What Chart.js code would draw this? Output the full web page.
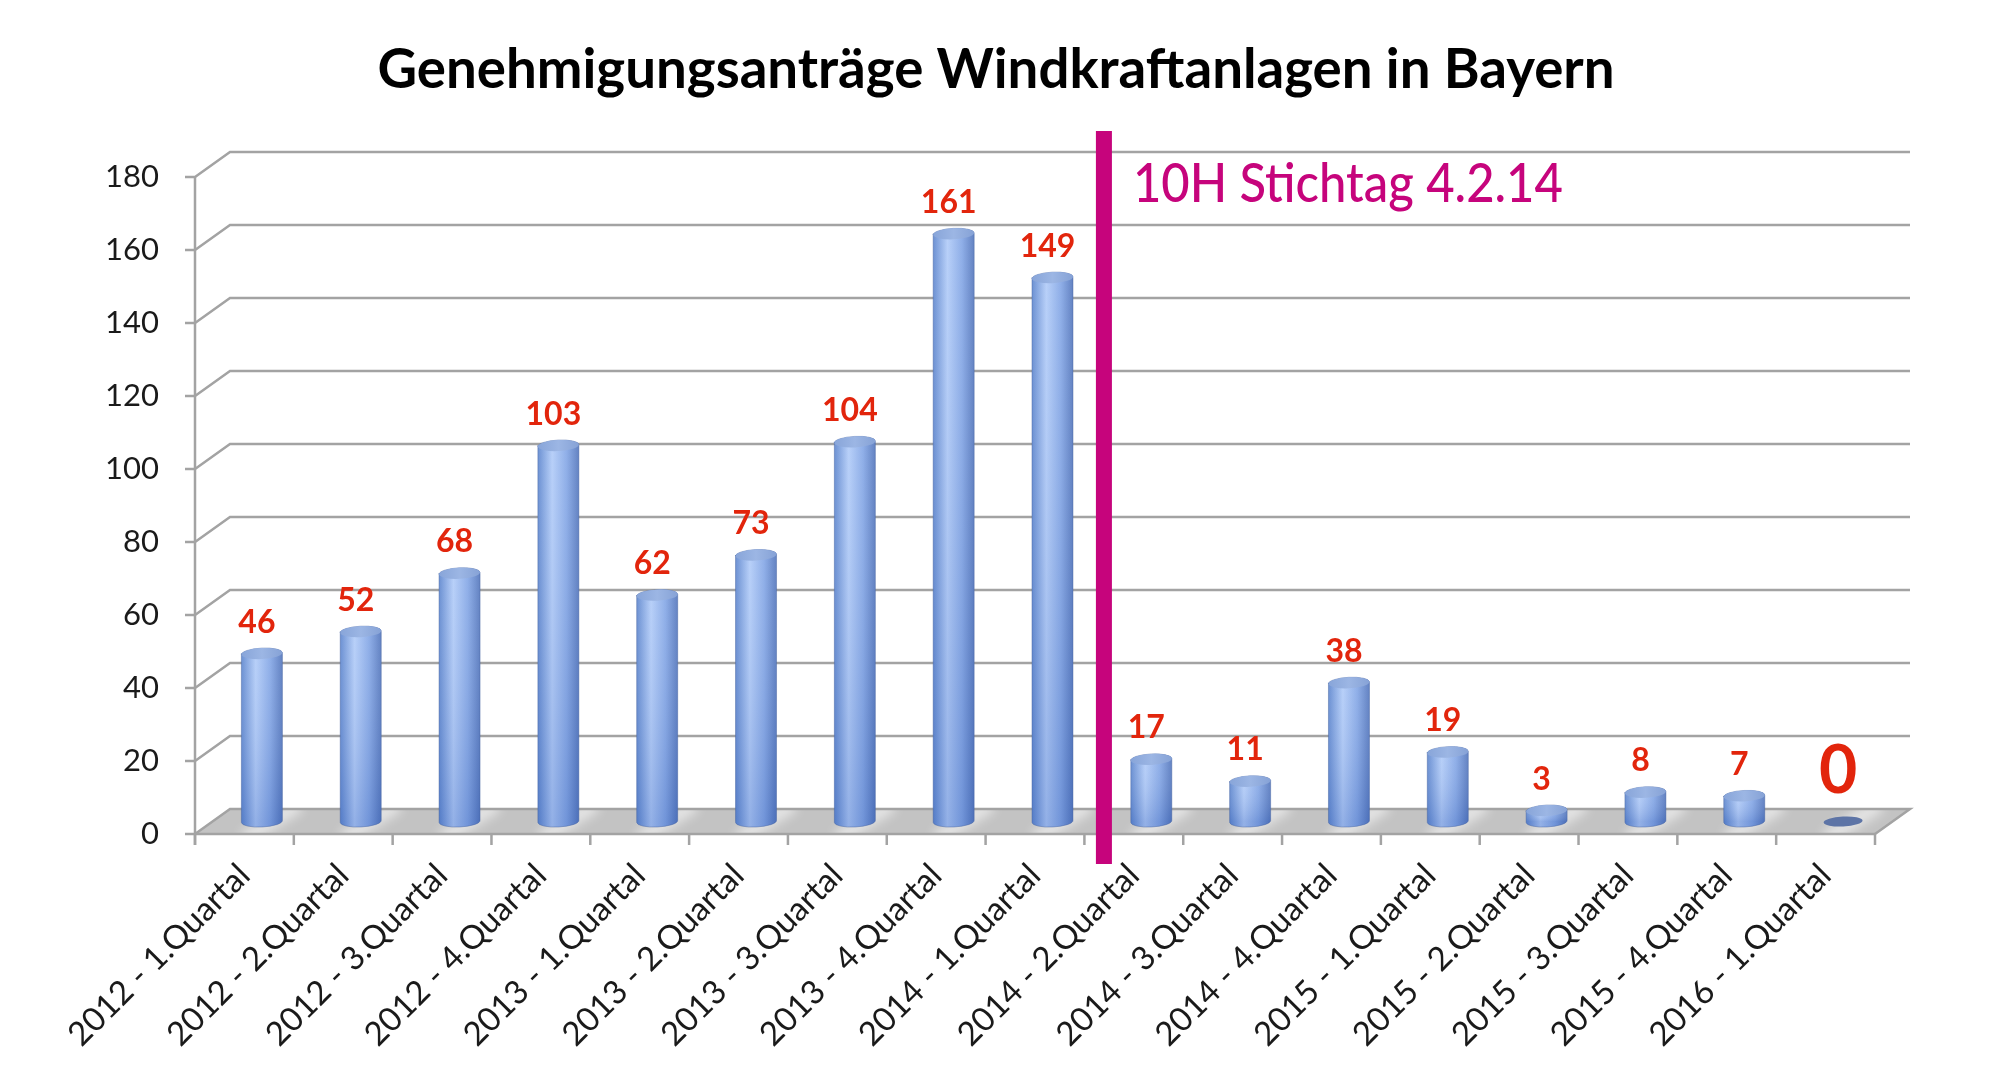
<!DOCTYPE html>
<html>
<head>
<meta charset="utf-8">
<title>Genehmigungsanträge Windkraftanlagen in Bayern</title>
<script src="https://cdn.jsdelivr.net/npm/chart.js@4.4.1/dist/chart.umd.min.js"></script>
<style>
  html, body { margin: 0; padding: 0; background: #fff; }
  #wrap { width: 1994px; height: 1086px; position: relative; }
</style>
</head>
<body>
<div id="wrap"><canvas id="chart"></canvas></div>
<script>
// Daten
const quarters = [
    '2012 - 1.Quartal', '2012 - 2.Quartal', '2012 - 3.Quartal', '2012 - 4.Quartal',
    '2013 - 1.Quartal', '2013 - 2.Quartal', '2013 - 3.Quartal', '2013 - 4.Quartal',
    '2014 - 1.Quartal', '2014 - 2.Quartal', '2014 - 3.Quartal', '2014 - 4.Quartal',
    '2015 - 1.Quartal', '2015 - 2.Quartal', '2015 - 3.Quartal', '2015 - 4.Quartal',
    '2016 - 1.Quartal'
];
const antraege = [46, 52, 68, 103, 62, 73, 104, 161, 149, 17, 11, 38, 19, 3, 8, 7, 0];
const yMin = 0;
const yMax = 180;
const yStep = 20;

const chartTitle = 'Genehmigungsanträge Windkraftanlagen in Bayern';
const stichtagText = '10H Stichtag 4.2.14';
const stichtagAfter = '2014 - 1.Quartal';   // Linie nach diesem Quartal

// 3D-Tiefe (Rückwand gegenüber Vorderkante)
const DX = 35, DY = 25;
const FONT = 'Lato, "Open Sans", sans-serif';
const RED = '#e2250c';
const MAGENTA = '#c6047c';

// Text ggf. horizontal stauchen, damit er in maxWidth passt
function fitText(ctx, text, x, y, font, maxWidth, align) {
    ctx.save();
    ctx.font = font;
    const w = ctx.measureText(text).width;
    const s = w > maxWidth ? maxWidth / w : 1;
    ctx.translate(x, y);
    ctx.scale(s, 1);
    ctx.textAlign = align;
    ctx.textBaseline = 'alphabetic';
    ctx.fillText(text, 0, 0);
    ctx.restore();
}

const chart3d = {
    id: 'chart3d',
    beforeDatasetsDraw(chart) {
        const {ctx, chartArea: a, scales: {x, y}} = chart;
        const B = y.getPixelForValue(0);
        ctx.save();

        // Boden
        ctx.beginPath();
        ctx.moveTo(a.left, B);
        ctx.lineTo(a.right, B);
        ctx.lineTo(a.right + DX, B - DY);
        ctx.lineTo(a.left + DX, B - DY);
        ctx.closePath();
        ctx.fillStyle = '#c3c3c3';
        ctx.fill();
        ctx.save();
        ctx.clip();
        ctx.filter = 'blur(6px)';
        ctx.strokeStyle = 'rgba(255,255,255,0.6)';
        ctx.lineWidth = 14;
        for (let i = 0; i < quarters.length; i++) {
            const px = x.getPixelForValue(i) + 10;
            ctx.beginPath();
            ctx.moveTo(px - 10, B + 5);
            ctx.lineTo(px + DX + 10, B - DY - 5);
            ctx.stroke();
        }
        ctx.restore();

        // Gitterlinien Rückwand + Seitenwand
        ctx.strokeStyle = '#a3a3a3';
        ctx.lineWidth = 2.5;
        y.ticks.forEach(t => {
            const py = y.getPixelForValue(t.value);
            ctx.beginPath();
            ctx.moveTo(a.left - 10, py);
            ctx.lineTo(a.left, py);
            ctx.lineTo(a.left + DX, py - DY);
            ctx.lineTo(a.right + DX, py - DY);
            if (t.value === yMin) ctx.lineTo(a.right, py);
            ctx.stroke();
        });

        // y-Achse
        ctx.beginPath();
        ctx.moveTo(a.left, y.getPixelForValue(yMax));
        ctx.lineTo(a.left, B + 11);
        ctx.stroke();

        // x-Achse mit Teilstrichen
        ctx.beginPath();
        ctx.moveTo(a.left, B);
        ctx.lineTo(a.right, B);
        for (let i = 0; i <= quarters.length; i++) {
            const px = x.getPixelForValue(i - 0.5);
            ctx.moveTo(px, B);
            ctx.lineTo(px, B + 11);
        }
        ctx.stroke();
        ctx.restore();
    },
    afterDatasetsDraw(chart) {
        const {ctx, chartArea: a, scales: {x, y}} = chart;
        const meta = chart.getDatasetMeta(0);
        ctx.save();

        meta.data.forEach((bar, i) => {
            const v = antraege[i];
            const cx = bar.x + DX / 2;
            const rx = bar.width / 2, ry = 5.5;
            const top = bar.y - DY / 2;
            const base = bar.base - DY / 2;
            const tilt = -0.05;

            if (v === 0) {
                ctx.beginPath();
                ctx.ellipse(cx, base, rx * 0.95, ry * 0.9, tilt, 0, Math.PI * 2);
                ctx.fillStyle = '#5d74a6';
                ctx.fill();
            } else {
                // Zylindermantel
                ctx.beginPath();
                ctx.moveTo(cx - rx, top);
                ctx.lineTo(cx - rx, base);
                ctx.ellipse(cx, base, rx, ry, tilt, Math.PI, 0, true);
                ctx.lineTo(cx + rx, top);
                ctx.ellipse(cx, top, rx, ry, tilt, 0, Math.PI, true);
                ctx.closePath();
                const g = ctx.createLinearGradient(cx - rx, 0, cx + rx, 0);
                g.addColorStop(0, '#6088cf');
                g.addColorStop(0.35, '#b2ccf8');
                g.addColorStop(0.7, '#86a8e6');
                g.addColorStop(1, '#5678bd');
                ctx.fillStyle = g;
                ctx.fill();
                const gv = ctx.createLinearGradient(0, top, 0, base);
                gv.addColorStop(0, 'rgba(255,255,255,0.08)');
                gv.addColorStop(1, 'rgba(40,80,170,0.22)');
                ctx.fillStyle = gv;
                ctx.fill();
                ctx.strokeStyle = 'rgba(70,100,160,0.45)';
                ctx.lineWidth = 1;
                ctx.stroke();

                // Deckel
                ctx.beginPath();
                ctx.ellipse(cx, top, rx, ry, tilt, 0, Math.PI * 2);
                const gt = ctx.createLinearGradient(cx - rx, 0, cx + rx, 0);
                gt.addColorStop(0, '#88a5d9');
                gt.addColorStop(0.5, '#9cb6e4');
                gt.addColorStop(1, '#86a2d6');
                ctx.fillStyle = gt;
                ctx.fill();
            }

            // Datenbeschriftung
            ctx.fillStyle = RED;
            ctx.textAlign = 'center';
            ctx.textBaseline = 'alphabetic';
            if (v === 0) {
                ctx.font = 'bold 66px ' + FONT;
                ctx.fillText(String(v), cx - 5, base - 29);
            } else {
                ctx.font = 'bold 32px ' + FONT;
                ctx.fillText(String(v), cx - 5, top - 21);
            }
        });

        // Stichtag-Linie
        const idx = quarters.indexOf(stichtagAfter);
        const lx = x.getPixelForValue(idx + 0.5) + DX / 2 + 2;
        ctx.fillStyle = MAGENTA;
        ctx.fillRect(lx - 8, a.top - 46, 16, (a.bottom + 30) - (a.top - 46));
        fitText(ctx, stichtagText, lx + 29, a.top + 25, '500 54px ' + FONT, 430, 'left');

        // Titel
        ctx.fillStyle = '#000';
        fitText(ctx, chartTitle, 996, 88, 'bold 55px ' + FONT, 1237, 'center');
        ctx.restore();
    }
};

new Chart(document.getElementById('chart'), {
    type: 'bar',
    data: {
        labels: quarters,
        datasets: [{
            label: 'Genehmigungsanträge',
            data: antraege,
            backgroundColor: 'rgba(0,0,0,0)',
            borderWidth: 0,
            categoryPercentage: 1,
            barPercentage: 0.415
        }]
    },
    options: {
        responsive: true,
        maintainAspectRatio: false,
        animation: false,
        layout: {
            padding: { top: 177, right: 119, bottom: 0, left: 0 }
        },
        plugins: {
            legend: { display: false },
            title: { display: false },
            tooltip: { enabled: false }
        },
        scales: {
            x: {
                grid: { display: false, drawTicks: false },
                border: { display: false },
                ticks: {
                    autoSkip: false,
                    minRotation: 45,
                    maxRotation: 45,
                    padding: 22,
                    color: '#1a1a1a',
                    font: { family: FONT, size: 33 }
                },
                afterFit(scale) { scale.height = 252; }
            },
            y: {
                min: yMin,
                max: yMax,
                grid: { display: false, drawTicks: false },
                border: { display: false },
                ticks: {
                    stepSize: yStep,
                    padding: 36,
                    color: '#1a1a1a',
                    font: { family: FONT, size: 31 }
                },
                afterFit(scale) { scale.width = 195; }
            }
        }
    },
    plugins: [chart3d]
});
</script>
</body>
</html>
